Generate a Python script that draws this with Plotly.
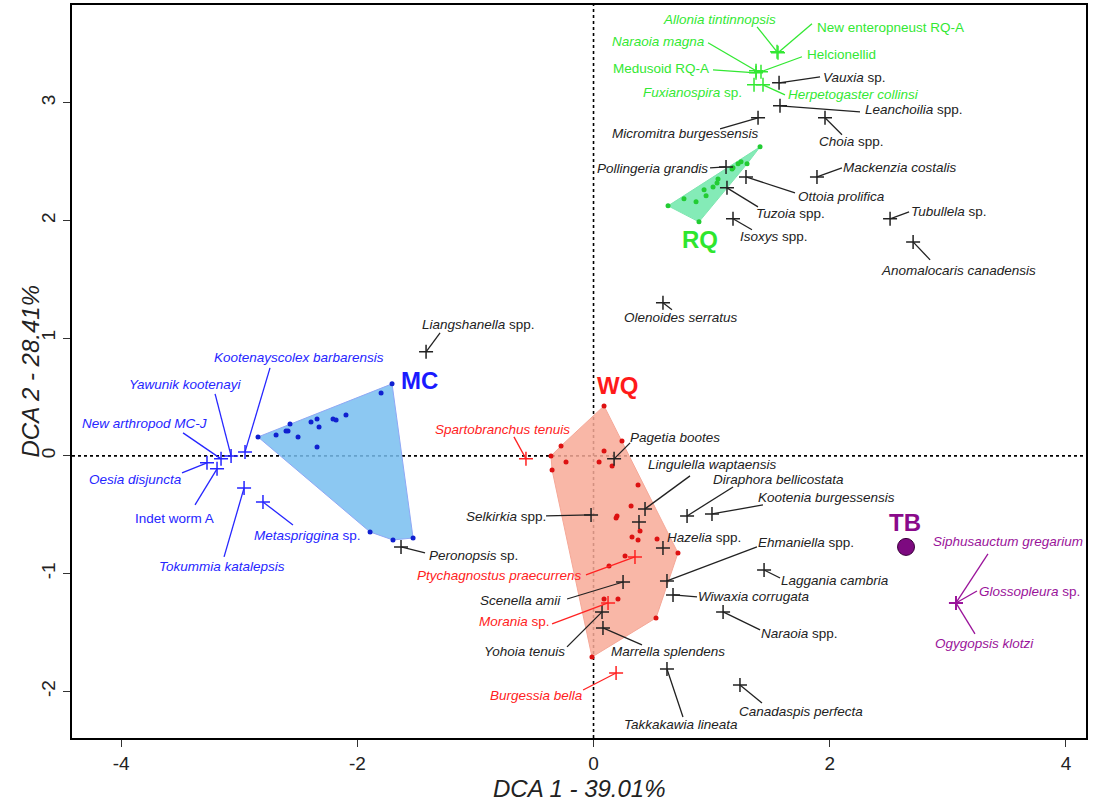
import plotly.graph_objects as go

# ---------------- data ----------------
# species scores (DCA1, DCA2) per group
RQ_NAMES = ["Allonia tintinnopsis", "New enteropneust RQ-A", "Naraoia magna", "Medusoid RQ-A",
            "Helcionellid", "Fuxianospira sp.", "Herpetogaster collinsi"]
RQ_X = [1.554, 1.562, 1.376, 1.376, 1.418, 1.359, 1.435]
RQ_Y = [3.432, 3.424, 3.271, 3.254, 3.263, 3.152, 3.152]

BK_NAMES = ["Vauxia sp.", "Leanchoilia spp.", "Choia spp.", "Micromitra burgessensis",
            "Pollingeria grandis", "Ottoia prolifica", "Tuzoia spp.", "Isoxys spp.",
            "Mackenzia costalis", "Tubullela sp.", "Anomalocaris canadensis", "Olenoides serratus",
            "Liangshanella spp.", "Peronopsis sp.", "Selkirkia spp.", "Pagetia bootes",
            "Lingulella waptaensis", "", "Hazelia spp.", "Diraphora bellicostata",
            "Kootenia burgessensis", "Ehmaniella spp.", "Laggania cambria", "Wiwaxia corrugata",
            "Naraoia spp.", "Scenella amii", "Yohoia tenuis", "Marrella splendens",
            "Takkakawia lineata", "Canadaspis perfecta"]
BK_X = [1.571, 1.579, 1.960, 1.393, 1.122, 1.291, 1.130, 1.181, 1.892, 2.511, 2.706, 0.588,
        -1.418, -1.630, -0.021, 0.174, 0.436, 0.385, 0.588, 0.792, 1.003, 0.622, 1.444, 0.673,
        1.097, 0.250, 0.072, 0.080, 0.622, 1.240]
BK_Y = [3.169, 2.974, 2.872, 2.872, 2.455, 2.370, 2.277, 2.014, 2.370, 2.014, 1.818, 1.300,
        0.884, -0.773, -0.501, -0.025, -0.450, -0.561, -0.782, -0.510, -0.493, -1.062, -0.969,
        -1.181, -1.325, -1.071, -1.325, -1.461, -1.810, -1.946]

WQ_NAMES = ["Spartobranchus tenuis", "Ptychagnostus praecurrens", "Morania sp.", "Burgessia bella"]
WQ_X = [-0.572, 0.351, 0.123, 0.191]
WQ_Y = [-0.025, -0.858, -1.249, -1.844]

MC_NAMES = ["New arthropod MC-J", "Yawunik kootenayi", "Kootenayscolex barbarensis",
            "Oesia disjuncta", "Indet worm A", "Tokummia katalepsis", "Metaspriggina sp."]
MC_X = [-3.154, -3.069, -2.951, -3.273, -3.188, -2.959, -2.799]
MC_Y = [-0.025, 0.000, 0.034, -0.059, -0.110, -0.272, -0.391]

TB_NAMES = ["Siphusauctum gregarium", "Glossopleura sp.", "Ogygopsis klotzi"]
TB_X = [3.069, 3.069, 3.069]
TB_Y = [-1.249, -1.249, -1.249]

# sample scores per group
MC_SX = [-2.841, -1.706, -1.528, -1.698, -1.892, -2.688, -2.604, -2.587, -2.570, -2.502,
         -2.392, -2.341, -2.324, -2.341, -2.206, -2.180, -2.096, -1.799]
MC_SY = [0.161, 0.612, -0.697, -0.714, -0.646, 0.178, 0.212, 0.212, 0.272, 0.161,
         0.289, 0.314, 0.246, 0.076, 0.314, 0.306, 0.348, 0.535]
WQ_SX = [0.089, -0.275, 0.241, 0.089, -0.360, -0.233, 0.047, 0.157, -0.351, 0.377, 0.318,
         0.199, 0.191, 0.394, 0.326, 0.377, 0.538, 0.715, 0.267, 0.131, 0.089, 0.207, 0.529, -0.013]
WQ_SY = [0.425, 0.085, 0.127, 0.042, 0.000, -0.051, -0.051, -0.085, -0.119, -0.246, -0.425,
         -0.510, -0.527, -0.637, -0.688, -0.714, -0.705, -0.824, -0.850, -0.935, -1.215, -1.215,
         -1.376, -1.708]
RQ_SX = [1.410, 1.300, 1.249, 1.224, 1.181, 1.173, 1.054, 1.046, 1.012, 0.953, 0.936, 0.868,
         0.766, 0.631, 0.893]
RQ_SY = [2.625, 2.481, 2.498, 2.481, 2.447, 2.438, 2.353, 2.319, 2.285, 2.209, 2.260, 2.158,
         2.184, 2.124, 1.988]
TB_SX = [2.646]
TB_SY = [-0.773]

X_TICKS = [-4, -2, 0, 2, 4]
X_TICKTEXT = ["-4", "-2", "0", "2", "4"]
Y_TICKS = [-2, -1, 0, 1, 2, 3]
Y_TICKTEXT = ["-2", "-1", "0", "1", "2", "3"]

# ---------------- layout / style ----------------
FONT = "Liberation Sans, Arial, sans-serif"
COL = {"RQ": "#33e833", "BK": "#222222", "WQ": "#ff2222", "MC": "#2626ff", "TB": "#9a139a"}
FILL = {"MC": "rgba(120,190,240,0.85)", "WQ": "rgba(248,170,152,0.85)", "RQ": "rgba(110,232,170,0.85)"}
EDGE = {"MC": "#8fa8f5", "WQ": "#f5a898", "RQ": "#7ee6b0"}
DOT = {"MC": "#1020d0", "WQ": "#dd1111", "RQ": "#22cc33"}

# label offsets in pixels: (text left dx, text centre dy, leader end dx, leader end dy)
LABEL_POS = {
    "Allonia tintinnopsis": (-114, -32, -20, -25),
    "New enteropneust RQ-A": (39, -25, 34, -29),
    "Naraoia magna": (-144, -29, -48, -28),
    "Medusoid RQ-A": (-143, -4, -43, -3),
    "Helcionellid": (46, -17, 41, -15),
    "Fuxianospira sp.": (-111, 8, None, None),
    "Herpetogaster collinsi": (25, 10, 22, 10),
    "Vauxia sp.": (44, -5, 41, -6),
    "Leanchoilia spp.": (85, 4, 80, 6),
    "Choia spp.": (-6, 24, 17, 17),
    "Micromitra burgessensis": (-146, 16, -38, 11),
    "Pollingeria grandis": (-129, 2, -16, 1),
    "Ottoia prolifica": (52, 20, 49, 16),
    "Tuzoia spp.": (29, 26, 31, 19),
    "Isoxys spp.": (7, 18, 19, 11),
    "Mackenzia costalis": (26, -9, 25, -9),
    "Tubullela sp.": (21, -7, 19, -7),
    "Anomalocaris canadensis": (-32, 29, 17, 18),
    "Olenoides serratus": (-39, 15, 9, 7),
    "Liangshanella spp.": (-4, -27, 14, -19),
    "Peronopsis sp.": (28, 9, 24, 6),
    "Selkirkia spp.": (-125, 2, -45, 1),
    "Pagetia bootes": (16, -21, 16, -16),
    "Lingulella waptaensis": (3, -44, 45, -33),
    "Hazelia spp.": (4, -10, None, None),
    "Diraphora bellicostata": (26, -36, 46, -29),
    "Kootenia burgessensis": (46, -16, 51, -9),
    "Ehmaniella spp.": (91, -38, 90, -34),
    "Laggania cambria": (17, 10, 16, 8),
    "Wiwaxia corrugata": (25, 2, 24, 2),
    "Naraoia spp.": (38, 22, 37, 18),
    "Scenella amii": (-143, 18, -56, 17),
    "Yohoia tenuis": (-118, 40, -35, 35),
    "Marrella splendens": (8, 24, 39, 17),
    "Takkakawia lineata": (-43, 55, 16, 48),
    "Canadaspis perfecta": (-1, 26, 22, 18),
    "Spartobranchus tenuis": (-91, -29, -12, -22),
    "Ptychagnostus praecurrens": (-218, 19, -49, 18),
    "Morania sp.": (-129, 19, -56, 21),
    "Burgessia bella": (-126, 22, -33, 17),
    "New arthropod MC-J": (-139, -35, -38, -26),
    "Yawunik kootenayi": (-102, -71, -16, -62),
    "Kootenayscolex barbarensis": (-31, -94, 25, -84),
    "Oesia disjuncta": (-118, 17, -25, 10),
    "Indet worm A": (-82, 50, -22, 36),
    "Tokummia katalepsis": (-85, 79, -20, 69),
    "Metaspriggina sp.": (-9, 34, 30, 23),
    "Siphusauctum gregarium": (-23, -61, 32, -49),
    "Glossopleura sp.": (23, -11, 21, -12),
    "Ogygopsis klotzi": (-21, 41, 19, 31),
}
UPRIGHT = {"New enteropneust RQ-A", "Helcionellid", "Medusoid RQ-A", "Indet worm A"}
GROUP_LABELS = {"MC": (-1.477, 0.637), "WQ": (0.207, 0.595), "RQ": (0.902, 1.835), "TB": (2.638, -0.569)}


def fmt(name):
    if name in UPRIGHT:
        return name
    for suf in (" spp.", " sp."):
        if name.endswith(suf):
            return "<i>" + name[: -len(suf)] + "</i>" + suf
    return "<i>" + name + "</i>"


def hull(xs, ys):
    pts = sorted(set(zip(xs, ys)))
    def cross(o, a, b):
        return (a[0] - o[0]) * (b[1] - o[1]) - (a[1] - o[1]) * (b[0] - o[0])
    lower, upper = [], []
    for p in pts:
        while len(lower) >= 2 and cross(lower[-2], lower[-1], p) <= 0:
            lower.pop()
        lower.append(p)
    for p in reversed(pts):
        while len(upper) >= 2 and cross(upper[-2], upper[-1], p) <= 0:
            upper.pop()
        upper.append(p)
    h = lower[:-1] + upper[:-1]
    h.append(h[0])
    return [p[0] for p in h], [p[1] for p in h]


fig = go.Figure()

# group polygons and sample dots
for g, sx, sy in (("MC", MC_SX, MC_SY), ("WQ", WQ_SX, WQ_SY), ("RQ", RQ_SX, RQ_SY)):
    hx, hy = hull(sx, sy)
    fig.add_trace(go.Scatter(x=hx, y=hy, mode="lines", fill="toself", fillcolor=FILL[g],
                             line=dict(color=EDGE[g], width=1), hoverinfo="skip", showlegend=False))
    fig.add_trace(go.Scatter(x=sx, y=sy, mode="markers", marker=dict(color=DOT[g], size=5),
                             showlegend=False))

fig.add_trace(go.Scatter(x=TB_SX, y=TB_SY, mode="markers",
                         marker=dict(color="#7d0a80", size=17, line=dict(color="#3a003a", width=1)),
                         showlegend=False))

shapes = [
    dict(type="line", xref="x", yref="paper", x0=0, x1=0, y0=0, y1=1,
         line=dict(color="black", width=1.6, dash="dot"), layer="below"),
    dict(type="line", xref="paper", yref="y", x0=0, x1=1, y0=0, y1=0,
         line=dict(color="black", width=1.6, dash="dot"), layer="below"),
]
annotations = []

groups = [("BK", BK_NAMES, BK_X, BK_Y), ("RQ", RQ_NAMES, RQ_X, RQ_Y), ("WQ", WQ_NAMES, WQ_X, WQ_Y),
          ("MC", MC_NAMES, MC_X, MC_Y), ("TB", TB_NAMES, TB_X, TB_Y)]
for g, names, xs, ys in groups:
    fig.add_trace(go.Scatter(x=xs, y=ys, mode="markers",
                             marker=dict(symbol="cross-thin", size=10, line=dict(color=COL[g], width=1.5)),
                             text=names, showlegend=False))
    for n, x, y in zip(names, xs, ys):
        if not n:
            continue
        tdx, tdy, ldx, ldy = LABEL_POS[n]
        if ldx is not None:
            shapes.append(dict(type="line", xref="x", yref="y", xsizemode="pixel", ysizemode="pixel",
                               xanchor=x, yanchor=y, x0=0, y0=0, x1=ldx, y1=-ldy,
                               line=dict(color=COL[g], width=1.3)))
        annotations.append(dict(x=x, y=y, xref="x", yref="y", text=fmt(n), showarrow=False,
                                xanchor="left", yanchor="middle", xshift=tdx - 2, yshift=-tdy,
                                font=dict(family=FONT, size=13.5, color=COL[g])))

for g, (gx, gy) in GROUP_LABELS.items():
    c = {"MC": "#1a1aff", "WQ": "#ff1a1a", "RQ": "#2ee62e", "TB": "#8a0a8a"}[g]
    annotations.append(dict(x=gx, y=gy, xref="x", yref="y", text="<b>" + g + "</b>", showarrow=False,
                            font=dict(family=FONT, size=24, color=c)))

annotations.append(dict(x=0.5, y=0, xref="paper", yref="paper", text="<i>DCA 1 - 39.01%</i>",
                        showarrow=False, yanchor="middle", yshift=-50,
                        font=dict(family=FONT, size=24, color="#222")))
annotations.append(dict(x=0, y=0.5, xref="paper", yref="paper", text="<i>DCA 2 - 28.41%</i>",
                        showarrow=False, xanchor="center", xshift=-42, textangle=-90,
                        font=dict(family=FONT, size=24, color="#222")))

axis_common = dict(showgrid=False, zeroline=False, showline=True, linecolor="black", linewidth=2,
                   mirror=True, ticks="outside", ticklen=7, tickwidth=1, tickcolor="#333",
                   automargin=False, tickfont=dict(family=FONT, size=19, color="#222"))
fig.update_layout(
    template="none",
    width=1095, height=801,
    margin=dict(l=72, r=9, t=5, b=63, autoexpand=False),
    plot_bgcolor="white", paper_bgcolor="white",
    xaxis=dict(range=[-4.416, 4.170], tickvals=X_TICKS, ticktext=X_TICKTEXT, **axis_common),
    yaxis=dict(range=[-2.396, 3.83], tickvals=Y_TICKS, ticktext=Y_TICKTEXT, tickangle=-90, **axis_common),
    shapes=shapes, annotations=annotations, showlegend=False,
)
fig.write_html("out.html", config={"displayModeBar": False},
               post_script="document.body.style.margin='0';document.body.style.overflow='hidden';")
